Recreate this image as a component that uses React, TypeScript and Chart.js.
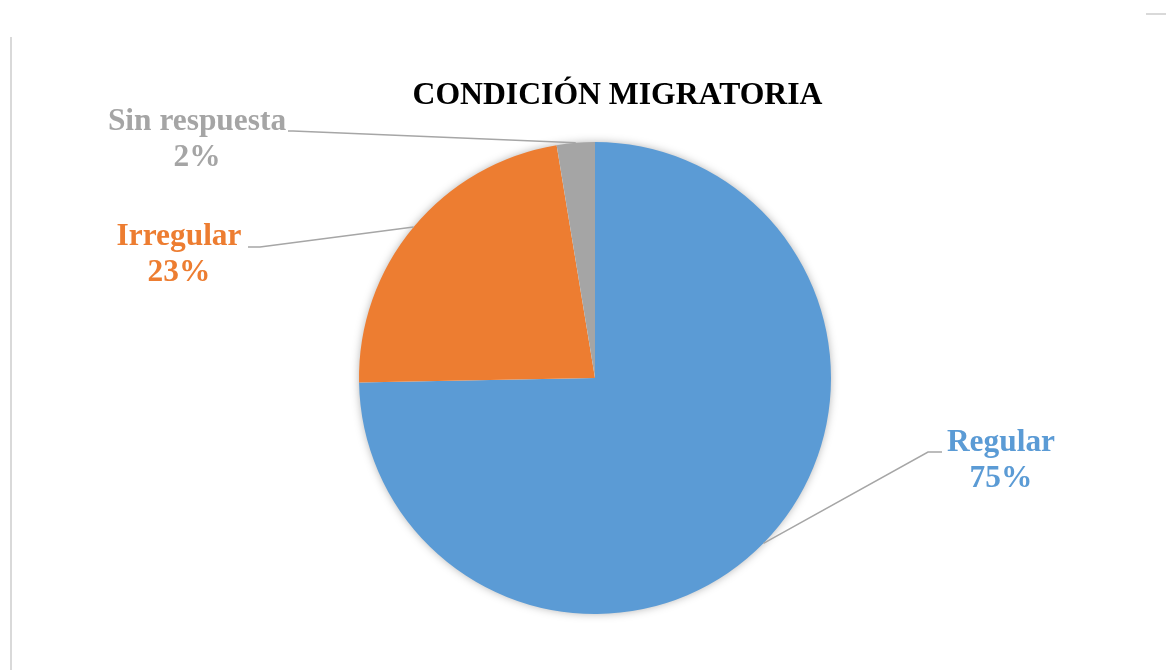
import React, { useEffect, useRef } from "react";
import { Chart, registerables } from "chart.js";

Chart.register(...registerables);

const categories = ["Regular", "Irregular", "Sin respuesta"];
const values = [74.7, 22.7, 2.6];
const percentLabels = ["75%", "23%", "2%"];
const colors = ["#5B9BD5", "#ED7D31", "#A5A5A5"];
const titleText = "CONDICIÓN MIGRATORIA";

// label layout relative to pie center (position/style, not data)
const labelLayout = [
  { elbowDx: 333, elbowDy: 74, tailDx: 347, textDx: 406, textDy: 65 },
  { elbowDx: -335, elbowDy: -131, tailDx: -347, textDx: -416, textDy: -141 },
  { elbowDx: -302, elbowDy: -247, tailDx: -307, textDx: -398, textDy: -256 },
];

const TITLE_FONT = "bold 31.7px 'Liberation Serif', 'Times New Roman', serif";
const LABEL_FONT = "bold 31.4px 'Liberation Serif', 'Times New Roman', serif";

const labelPlugin = {
  id: "customLabels",
  beforeDatasetsDraw(chart: any) {
    const meta = chart.getDatasetMeta(0);
    const arc = meta.data[0];
    if (!arc) return;
    const { x, y, outerRadius } = arc.getProps(["x", "y", "outerRadius"], true);
    const ctx = chart.ctx;
    ctx.save();
    ctx.shadowColor = "rgba(0,0,0,0.35)";
    ctx.shadowBlur = 10;
    ctx.shadowOffsetX = 0;
    ctx.shadowOffsetY = 0;
    ctx.beginPath();
    ctx.arc(x, y, outerRadius - 1, 0, Math.PI * 2);
    ctx.fillStyle = "#ffffff";
    ctx.fill();
    ctx.restore();
  },
  afterDraw(chart: any) {
    const ctx = chart.ctx;
    const meta = chart.getDatasetMeta(0);
    ctx.save();
    // title
    ctx.font = TITLE_FONT;
    ctx.fillStyle = "#000000";
    ctx.textAlign = "center";
    ctx.textBaseline = "middle";
    ctx.fillText(titleText, 617.5, 96);

    meta.data.forEach((el: any, i: number) => {
      const p = el.getProps(["x", "y", "startAngle", "endAngle", "outerRadius"], true);
      const mid = (p.startAngle + p.endAngle) / 2;
      const ax = p.x + Math.cos(mid) * p.outerRadius;
      const ay = p.y + Math.sin(mid) * p.outerRadius;
      const L = labelLayout[i];
      const ex = p.x + L.elbowDx;
      const ey = p.y + L.elbowDy;
      const tx = p.x + L.tailDx;
      ctx.beginPath();
      ctx.moveTo(ax, ay);
      ctx.lineTo(ex, ey);
      ctx.lineTo(tx, ey);
      ctx.strokeStyle = "#A6A6A6";
      ctx.lineWidth = 1.5;
      ctx.stroke();

      ctx.font = LABEL_FONT;
      ctx.fillStyle = colors[i];
      ctx.textAlign = "center";
      ctx.textBaseline = "middle";
      const cx = p.x + L.textDx;
      const cy = p.y + L.textDy;
      ctx.fillText(categories[i], cx, cy);
      ctx.fillText(percentLabels[i], cx, cy + 36);
    });
    ctx.restore();
  },
};

export default function App() {
  const ref = useRef<HTMLCanvasElement>(null);
  useEffect(() => {
    document.body.style.margin = "0";
    if (!ref.current) return;
    const chart = new Chart(ref.current, {
      type: "pie",
      data: {
        labels: categories,
        datasets: [
          {
            data: values,
            backgroundColor: colors,
            borderWidth: 0,
          },
        ],
      },
      options: {
        animation: false,
        responsive: false,
        maintainAspectRatio: false,
        layout: { padding: { top: 142, bottom: 56, left: 359, right: 335 } },
        plugins: {
          legend: { display: false },
          title: { display: false },
          tooltip: { enabled: false },
        },
      },
      plugins: [labelPlugin],
    });
    return () => chart.destroy();
  }, []);

  return (
    <div style={{ position: "fixed", left: 0, top: 0, width: 1166, height: 670, background: "#fff" }}>
      <canvas ref={ref} width={1166} height={670} style={{ position: "absolute", left: 0, top: 0 }} />
      <div style={{ position: "absolute", left: 10, top: 37, width: 2, height: 633, background: "#D9D9D9" }} />
      <div style={{ position: "absolute", left: 1146, top: 13, width: 20, height: 2, background: "#D9D9D9" }} />
    </div>
  );
}
